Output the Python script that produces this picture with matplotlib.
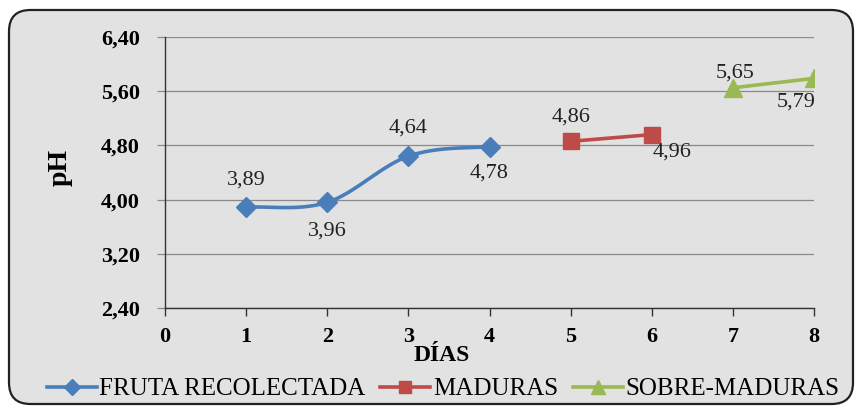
import numpy as np
import matplotlib
matplotlib.use("Agg")
import matplotlib.pyplot as plt
from matplotlib.patches import FancyBboxPatch
from matplotlib.lines import Line2D

# ---- data ----
dias_fruta = [1, 2, 3, 4]
ph_fruta = [3.89, 3.96, 4.64, 4.78]
dias_maduras = [5, 6]
ph_maduras = [4.86, 4.96]
dias_sobre = [7, 8]
ph_sobre = [5.65, 5.79]
series_names = ["FRUTA RECOLECTADA", "MADURAS", "SOBRE-MADURAS"]
y_ticks = [2.40, 3.20, 4.00, 4.80, 5.60, 6.40]
x_ticks = [0, 1, 2, 3, 4, 5, 6, 7, 8]

plt.rcParams['font.family'] = ['Liberation Serif', 'DejaVu Serif']

BLUE = "#4A7EBB"
RED = "#BE4B48"
GREEN = "#98B954"
BG = "#e2e2e2"

# label offsets in pixels (styling only)
off_fruta = [(0, 27), (0, -29), (0, 28), (0, -26)]
off_maduras = [(0, 24), (20, -17)]
off_sobre = [(2, 15), (-18, -24)]


def smooth(xs, ys, n=30):
    """Bezier smoothing through the given points (Excel 'smoothed line')."""
    xs = np.asarray(xs, float)
    ys = np.asarray(ys, float)
    px = np.concatenate([[2 * xs[0] - xs[1]], xs, [2 * xs[-1] - xs[-2]]])
    py = np.concatenate([[ys[0]], ys, [ys[-1]]])
    outx, outy = [], []
    for i in range(1, len(px) - 2):
        t = np.linspace(0, 1, n)
        p0x, p1x, p2x, p3x = px[i - 1:i + 3]
        p0y, p1y, p2y, p3y = py[i - 1:i + 3]
        c1x = p1x + (p2x - p0x) / 6
        c1y = p1y + (p2y - p0y) / 6
        c2x = p2x - (p3x - p1x) / 6
        c2y = p2y - (p3y - p1y) / 6
        bx = (1 - t) ** 3 * p1x + 3 * (1 - t) ** 2 * t * c1x + 3 * (1 - t) * t ** 2 * c2x + t ** 3 * p2x
        by = (1 - t) ** 3 * p1y + 3 * (1 - t) ** 2 * t * c1y + 3 * (1 - t) * t ** 2 * c2y + t ** 3 * p2y
        outx.extend(bx)
        outy.extend(by)
    return np.array(outx), np.array(outy)


fig = plt.figure(figsize=(8.56, 4.08), dpi=100)
fig.patch.set_facecolor("white")
frame = FancyBboxPatch((9 / 856, 4 / 408), 844 / 856, 394 / 408,
                       boxstyle="round,pad=0,rounding_size=0.025",
                       transform=fig.transFigure, facecolor=BG,
                       edgecolor="#222222", linewidth=1.6, zorder=-10,
                       mutation_aspect=856 / 408)
fig.patches.append(frame)

ax = fig.add_axes([165 / 856, 1 - 308 / 408, 649 / 856, 271 / 408])
ax.set_zorder(1)
ax.set_facecolor("none")
ax.set_xlim(0, 8)
ax.set_ylim(2.4, 6.4)
ax.set_yticks(y_ticks)
ax.set_yticklabels([f"{v:.2f}".replace(".", ",") for v in y_ticks],
                   fontsize=16, fontweight="bold")
ax.set_xticks(x_ticks)
ax.set_xticklabels([str(v) for v in x_ticks], fontsize=16, fontweight="bold")
ax.grid(axis="y", color="#8a8a8a", linewidth=0.9)
ax.set_axisbelow(True)
for s in ["top", "right"]:
    ax.spines[s].set_visible(False)
for s in ["left", "bottom"]:
    ax.spines[s].set_color("#333333")
    ax.spines[s].set_linewidth(1.0)
ax.tick_params(axis="y", direction="out", length=6, color="#8a8a8a", width=0.9, pad=12)
ax.tick_params(axis="x", direction="out", length=6, color="#333333", width=1.0, pad=8)

ax.set_ylabel("pH", fontsize=20, fontweight="bold")
ax.yaxis.set_label_coords(-0.162, 0.52)
ax.set_xlabel("DÍAS", fontsize=17, fontweight="bold")
ax.xaxis.set_label_coords(0.427, -0.175)
ax.xaxis.label.set_va("center")
ax.yaxis.label.set_va("center")

# FRUTA (smoothed)
sx, sy = smooth(dias_fruta, ph_fruta)
ax.plot(sx, sy, color=BLUE, lw=2.6, solid_capstyle="round", zorder=3)
ax.plot(dias_fruta, ph_fruta, linestyle="none", marker="D", markersize=10,
        color=BLUE, zorder=4)
ax.plot(dias_maduras, ph_maduras, color=RED, lw=2.6, marker="s",
        markersize=12, zorder=4)
ax.plot(dias_sobre, ph_sobre, color=GREEN, lw=2.6, marker="^",
        markersize=13, zorder=4)

for xs, ys, offs in [(dias_fruta, ph_fruta, off_fruta),
                     (dias_maduras, ph_maduras, off_maduras),
                     (dias_sobre, ph_sobre, off_sobre)]:
    for x, y, o in zip(xs, ys, offs):
        ax.annotate(f"{y:.2f}".replace(".", ","), (x, y),
                    xytext=o, textcoords="offset pixels",
                    ha="center", va="center", fontsize=16, color="#222222",
                    zorder=5)

# legend
handles = [Line2D([], [], color=BLUE, lw=2.6, marker="D", markersize=8),
           Line2D([], [], color=RED, lw=2.6, marker="s", markersize=9),
           Line2D([], [], color=GREEN, lw=2.6, marker="^", markersize=10)]
fig.legend(handles, series_names, loc="center", bbox_to_anchor=(443 / 856, 1 - 389 / 408),
           ncol=3, frameon=False, fontsize=18, handlelength=2.0,
           handletextpad=0.1, columnspacing=0.6)

fig.savefig("out.png", dpi=100, facecolor=fig.get_facecolor())
